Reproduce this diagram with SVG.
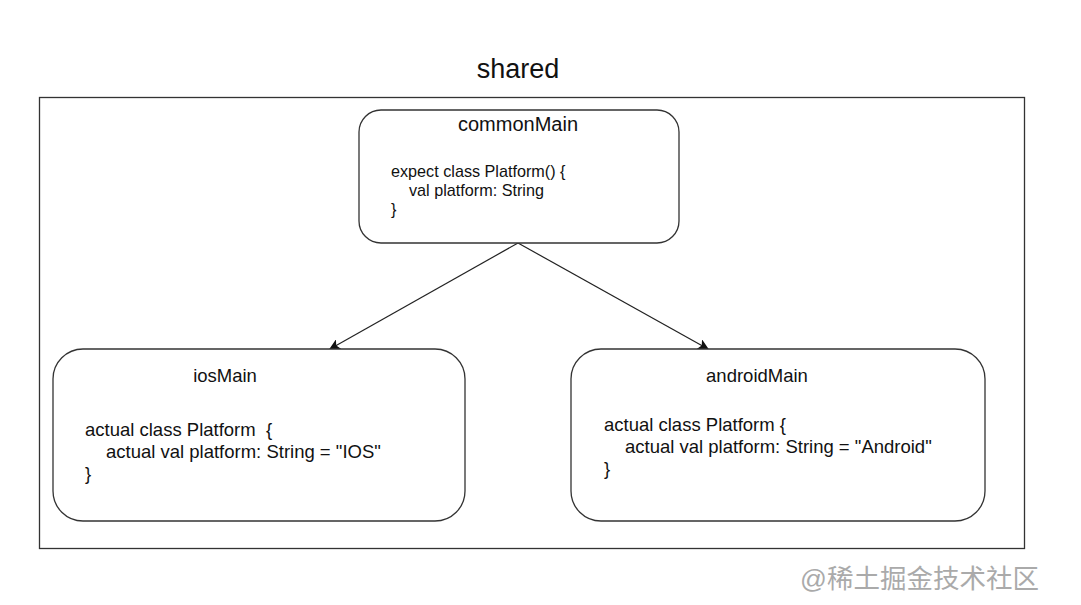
<svg xmlns="http://www.w3.org/2000/svg" width="1081" height="605" viewBox="0 0 1081 605">
<style>
.box{fill:#fff;stroke:#333;stroke-width:1.3}
.t{font-family:"Liberation Sans",Arial,sans-serif;fill:#111;white-space:pre}
.title{font-size:18.5px;text-anchor:middle}
.code{font-size:18.5px}
.small{font-size:16.2px}
.edge{stroke:#222;stroke-width:1.2;fill:none}
</style>
<defs>
<marker id="arr" viewBox="0 0 10 10" refX="9" refY="5" markerWidth="11" markerHeight="11" orient="auto" markerUnits="userSpaceOnUse">
<path d="M0,0 L10,5 L0,10 L2.5,5 Z" fill="#111"/>
</marker>
</defs>
<rect width="1081" height="605" fill="#fff"/>
<g id="shared">
<text class="t" x="518" y="78" font-size="27" text-anchor="middle">shared</text>
<rect x="39.5" y="97.5" width="985" height="451" fill="none" stroke="#333" stroke-width="1.3"/>
</g>
<g id="connectors">
<line class="edge" x1="518" y1="243" x2="330" y2="349" marker-end="url(#arr)"/>
<line class="edge" x1="518" y1="243" x2="708" y2="349" marker-end="url(#arr)"/>
</g>
<g id="commonMain">
<rect class="box" x="359" y="110" width="320" height="133" rx="22"/>
<text class="t title" x="518" y="131" font-size="20" style="font-size:20px">commonMain</text>
<text class="t small" x="391" y="177">expect class Platform() {</text>
<text class="t small" x="409" y="196">val platform: String</text>
<text class="t small" x="391" y="215">}</text>
</g>
<g id="iosMain">
<rect class="box" x="53" y="349" width="412" height="172" rx="30"/>
<text class="t title" x="225" y="382">iosMain</text>
<text class="t code" x="85" y="436">actual class Platform  {</text>
<text class="t code" x="106" y="458">actual val platform: String = "IOS"</text>
<text class="t code" x="85" y="480">}</text>
</g>
<g id="androidMain">
<rect class="box" x="571" y="349" width="414" height="172" rx="30"/>
<text class="t title" x="757" y="382">androidMain</text>
<text class="t code" x="604" y="431">actual class Platform {</text>
<text class="t code" x="625" y="453">actual val platform: String = "Android"</text>
<text class="t code" x="604" y="475">}</text>
</g>
<text x="800" y="588" font-size="26.5" fill="#aaa" font-family="'Liberation Sans','Noto Sans CJK SC',sans-serif">@稀土掘金技术社区</text>
</svg>
